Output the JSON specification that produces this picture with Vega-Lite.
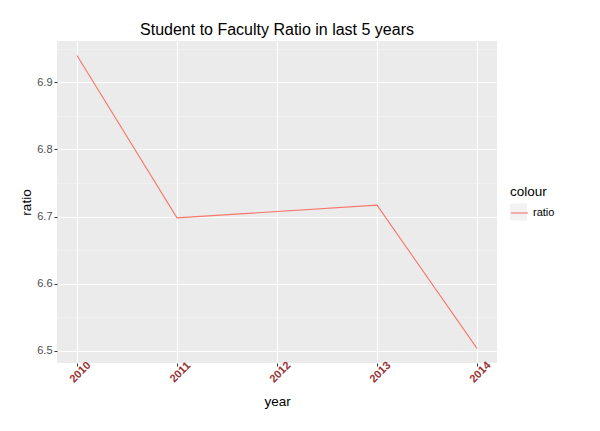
{
  "$schema": "https://vega.github.io/schema/vega-lite/v6.json",
  "width": 440,
  "height": 322,
  "autosize": {"type": "none"},
  "padding": {"left": 57, "top": 41, "right": 103, "bottom": 68},
  "background": "white",
  "title": {"text": "Student to Faculty Ratio in last 5 years", "fontSize": 16, "fontWeight": "normal", "font": "Liberation Sans", "color": "black", "offset": 3, "anchor": "middle"},
  "data": {"values": [
    {"year": 2010, "ratio": 6.94, "series": "ratio"},
    {"year": 2011, "ratio": 6.698, "series": "ratio"},
    {"year": 2013, "ratio": 6.717, "series": "ratio"},
    {"year": 2014, "ratio": 6.5035, "series": "ratio"}
  ]},
  "encoding": {
    "x": {
      "field": "year", "type": "quantitative",
      "scale": {"domain": [2009.8, 2014.2], "nice": false, "zero": false},
      "axis": {
        "title": "year",
        "values": [2010, 2010.5, 2011, 2011.5, 2012, 2012.5, 2013, 2013.5, 2014],
        "format": "d",
        "labelExpr": "datum.value % 1 === 0 ? datum.label : ''",
        "labelAngle": -45, "labelAlign": "center", "labelBaseline": "middle",
        "labelColor": "#993333", "labelFontWeight": "bold", "labelFontSize": 11,
        "labelPadding": 6, "labelOffset": 3,
        "gridColor": {"condition": {"test": "datum.value % 1 !== 0", "value": "#f4f4f4"}, "value": "white"},
        "gridWidth": {"condition": {"test": "datum.value % 1 !== 0", "value": 0.6}, "value": 1.1},
        "tickOpacity": {"condition": {"test": "datum.value % 1 !== 0", "value": 0}, "value": 1},
        "titlePadding": 10
      }
    },
    "y": {
      "field": "ratio", "type": "quantitative",
      "scale": {"domain": [6.4817, 6.9616], "nice": false, "zero": false},
      "axis": {
        "title": "ratio",
        "values": [6.5, 6.55, 6.6, 6.65, 6.7, 6.75, 6.8, 6.85, 6.9, 6.95],
        "format": ".1f",
        "labelExpr": "abs(datum.value*10 - round(datum.value*10)) < 0.01 ? datum.label : ''",
        "labelColor": "#4d4d4d", "labelFontSize": 11,
        "labelPadding": 2,
        "gridColor": {"condition": {"test": "abs(datum.value*10 - round(datum.value*10)) > 0.01", "value": "#f4f4f4"}, "value": "white"},
        "gridWidth": {"condition": {"test": "abs(datum.value*10 - round(datum.value*10)) > 0.01", "value": 0.6}, "value": 1.1},
        "tickOpacity": {"condition": {"test": "abs(datum.value*10 - round(datum.value*10)) > 0.01", "value": 0}, "value": 1},
        "titlePadding": 3
      }
    }
  },
  "layer": [
    {
      "mark": {"type": "point", "shape": "square", "filled": true, "opacity": 0},
      "encoding": {
        "fill": {
          "field": "series", "type": "nominal",
          "scale": {"domain": ["ratio"], "range": ["#f2f2f2"]},
          "legend": {
            "title": null,
            "orient": "none", "legendX": 453, "legendY": 162.5, "zindex": 0,
            "symbolType": "square", "symbolSize": 289, "symbolStrokeWidth": 0,
            "labelFontSize": 11, "labelColor": "black",
            "labelExpr": "''",
            "padding": 0,
            "encode": {"symbols": {"update": {"opacity": {"value": 1}, "fillOpacity": {"value": 1}, "fill": {"value": "#f2f2f2"}, "strokeWidth": {"value": 0}}}}
          }
        }
      }
    },
    {
      "mark": {"type": "line", "strokeWidth": 1.1},
      "encoding": {
        "color": {
          "field": "series", "type": "nominal",
          "scale": {"range": ["#F8766D"]},
          "legend": {
            "title": "colour",
            "orient": "none", "legendX": 453, "legendY": 144, "zindex": 1,
            "symbolType": "stroke", "symbolSize": 289, "symbolStrokeWidth": 1.1,
            "titleFontSize": 13.5, "titleFontWeight": "normal", "titleColor": "black",
            "labelFontSize": 11, "labelColor": "black", "titlePadding": 5,
            "padding": 0
          }
        }
      }
    }
  ],
  "config": {
    "font": "Liberation Sans",
    "view": {"fill": "#ebebeb", "stroke": null},
    "axis": {
      "domain": false,
      "tickColor": "#333333",
      "tickSize": 3,
      "tickWidth": 1,
      "titleFontSize": 13.5,
      "titleFontWeight": "normal",
      "titleColor": "black",
      "labelFont": "Liberation Sans",
      "titleFont": "Liberation Sans"
    },
    "legend": {"labelFont": "Liberation Sans", "titleFont": "Liberation Sans"}
  }
}
